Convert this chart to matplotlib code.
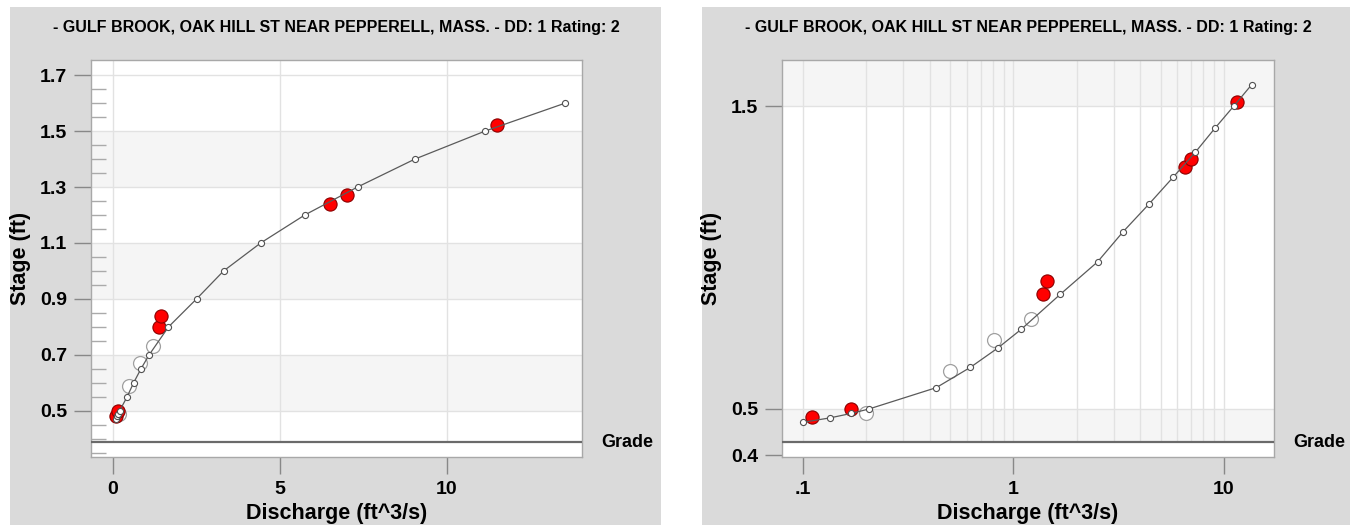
import numpy as np
import matplotlib
matplotlib.use("Agg")
import matplotlib.pyplot as plt
from matplotlib.patches import Rectangle
from matplotlib.ticker import FixedLocator, FixedFormatter, NullFormatter
import matplotlib.transforms as mtransforms

plt.rcParams["font.family"] = ["Liberation Sans", "DejaVu Sans"]
plt.rcParams["font.weight"] = "bold"

# Dados da curva-chave (tabela de classificacao)
rating_stage = [0.47, 0.48, 0.49, 0.50, 0.55, 0.60, 0.65, 0.70, 0.80, 0.90,
                1.00, 1.10, 1.20, 1.30, 1.40, 1.50, 1.60]
rating_q = [0.10, 0.135, 0.17, 0.206, 0.43, 0.625, 0.845, 1.09, 1.67, 2.51,
            3.32, 4.43, 5.75, 7.33, 9.05, 11.15, 13.55]

# Medicoes (vermelho)
meas_q = [0.11, 0.17, 1.39, 1.45, 6.52, 7.00, 11.5]
meas_stage = [0.481, 0.50, 0.80, 0.84, 1.24, 1.27, 1.52]

# Medicoes antigas (circulos abertos grandes)
old_q = [0.20, 0.50, 0.81, 1.21]
old_stage = [0.49, 0.59, 0.67, 0.73]

# Grade por painel
grade_lin = 0.388
grade_log = 0.427

titulo = "- GULF BROOK, OAK HILL ST NEAR PEPPERELL, MASS. - DD: 1 Rating: 2"

W, H = 1356, 525
fig = plt.figure(figsize=(W / 100, H / 100), dpi=100)
fig.patch.set_facecolor("white")

# Paineis cinzas de fundo
painel = "#dadada"
fig.patches.append(Rectangle((10 / W, 0), 651 / W, 518 / H, transform=fig.transFigure,
                             facecolor=painel, edgecolor="none", zorder=-10))
fig.patches.append(Rectangle((702 / W, 0), 648 / W, 518 / H, transform=fig.transFigure,
                             facecolor=painel, edgecolor="none", zorder=-10))

ax1 = fig.add_axes([91 / W, 1 - 457 / H, 491 / W, 397 / H])
ax2 = fig.add_axes([782 / W, 1 - 457 / H, 492 / W, 397 / H])

band = "#f5f5f5"
grid = "#e2e2e2"


def estilo(ax, grade):
    ax.set_facecolor("white")
    for s in ax.spines.values():
        s.set_color("#a8a8a8")
        s.set_linewidth(1)
    ax.axhline(grade, color="#6a6a6a", lw=1.6, zorder=3)
    ax.axhspan(ax.get_ylim()[0], grade, color="white", zorder=1.5)
    tr = mtransforms.blended_transform_factory(ax.transAxes, ax.transData)
    ax.text(1.04, grade, "Grade", transform=tr, ha="left", va="center",
            fontsize=13, fontweight="bold", clip_on=False)
    ax.text(0.5, 1.083, titulo, transform=ax.transAxes, ha="center", va="center",
            fontsize=11.5, fontweight="bold")
    ax.set_ylabel("Stage (ft)", fontsize=15.5, fontweight="bold", va="center")
    ax.set_xlabel("Discharge (ft^3/s)", fontsize=15.5, fontweight="bold", va="center")
    ax.yaxis.set_label_coords(-0.143, 0.5)
    ax.xaxis.set_label_coords(0.5, -0.142)
    ax.tick_params(axis="both", which="major", direction="out", length=12,
                   width=1, color="#888888", labelsize=14, pad=5)


def desenhar(ax):
    ax.plot(old_q, old_stage, "o", ms=10, mfc="white", mec="#a0a0a0", mew=0.9, zorder=4)
    ax.plot(meas_q, meas_stage, "o", ms=9.5, mfc="#ff0000", mec="#8a0000", mew=0.8, zorder=5)
    ax.plot(rating_q, rating_stage, "-", color="#5a5a5a", lw=0.9, zorder=6)
    ax.plot(rating_q, rating_stage, "o", ms=4.4, mfc="white", mec="#505050", mew=0.8, zorder=7)


# Painel esquerdo: linear
ax1.set_xlim(-0.65, 14.05)
ax1.set_ylim(0.335, 1.754)
yt = [0.5, 0.7, 0.9, 1.1, 1.3, 1.5, 1.7]
for a, b in zip(yt[0::2], yt[1::2]):
    ax1.axhspan(a, b, color=band, zorder=0.5, lw=0)
for y in yt:
    ax1.axhline(y, color=grid, lw=1, zorder=1)
for x in [0, 5, 10]:
    ax1.axvline(x, color=grid, lw=1, zorder=1)
ax1.set_xticks([0, 5, 10])
ax1.set_xticklabels(["0", "5", "10"])
ax1.set_yticks(yt)
ax1.set_yticklabels(["0.5", "0.7", "0.9", "1.1", "1.3", "1.5", "1.7"])
ax1.yaxis.set_minor_locator(FixedLocator([0.35, 0.4, 0.45, 0.55, 0.6, 0.65, 0.75, 0.8, 0.85,
                                          0.95, 1.0, 1.05, 1.15, 1.2, 1.25, 1.35, 1.4, 1.45,
                                          1.55, 1.6, 1.65]))
ax1.tick_params(axis="y", which="minor", direction="in", length=11, width=1, color="#aaaaaa")
ax1.tick_params(axis="x", which="minor", length=0)
estilo(ax1, grade_lin)
desenhar(ax1)

# Painel direito: log
ax2.set_xscale("log")
ax2.set_yscale("function", functions=(lambda s: np.log10(np.clip(s + 0.5, 1e-6, None)),
                                      lambda v: 10 ** v - 0.5))
ax2.set_xlim(0.0796, 17.3)
ax2.set_ylim(0.396, 1.722)
ax2.axhspan(1.5, 1.722, color=band, zorder=0.5, lw=0)
ax2.axhspan(0.396, 0.5, color=band, zorder=0.5, lw=0)
for y in [0.5, 1.5]:
    ax2.axhline(y, color=grid, lw=1, zorder=1)
xg = [m * 10.0 ** e for e in (-1, 0, 1) for m in range(1, 10)]
for x in xg:
    ax2.axvline(x, color=grid, lw=1, zorder=1)
ax2.xaxis.set_major_locator(FixedLocator([0.1, 1, 10]))
ax2.xaxis.set_major_formatter(FixedFormatter([".1", "1", "10"]))
ax2.xaxis.set_minor_formatter(NullFormatter())
ax2.tick_params(axis="x", which="minor", length=0)
ax2.yaxis.set_major_locator(FixedLocator([0.4, 0.5, 1.5]))
ax2.yaxis.set_major_formatter(FixedFormatter(["0.4", "0.5", "1.5"]))
ax2.yaxis.set_minor_formatter(NullFormatter())
ax2.tick_params(axis="y", which="minor", length=0)
estilo(ax2, grade_log)
desenhar(ax2)

plt.savefig("out.png", dpi=100)
plt.close()
